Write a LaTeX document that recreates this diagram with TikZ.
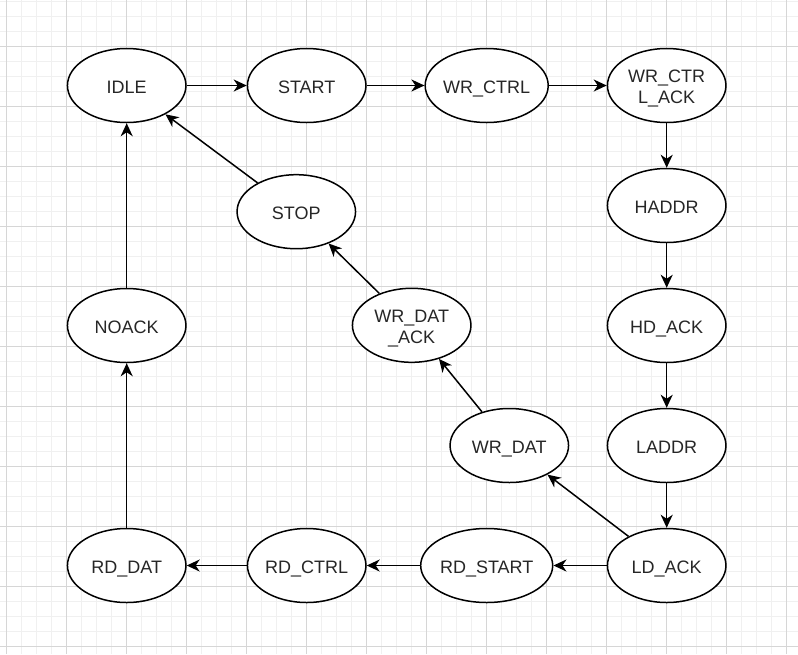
\documentclass[tikz,border=0pt]{standalone}
\usepackage{fontspec}
\setmainfont{Liberation Sans}
\usetikzlibrary{shapes.geometric,arrows.meta}
\begin{document}
\begin{tikzpicture}[x=1pt,y=-1pt,
  minorgrid/.style={draw=black!6, line width=0.8pt},
  majorgrid/.style={draw=black!16, line width=0.8pt},
  st/.style={ellipse, draw, line width=1.5pt, fill=white, minimum width=118.5pt,
    minimum height=74pt, inner sep=0pt,
    font=\fontsize{18}{21}\selectfont, text=black!85,
    text height=16pt, text depth=0pt},
  st2/.style={st, text height=15pt, text depth=21pt},
  tr/.style={-{Stealth[length=13pt,width=12pt,inset=4pt]}, line width=1.5pt}]
\useasboundingbox (0,0) rectangle (798,654);
\fill[white] (0,0) rectangle (798,654);
\foreach \i in {0,...,52} \draw[minorgrid] ({6.7+15*\i},0) -- ({6.7+15*\i},654);
\foreach \i in {0,...,43} \draw[minorgrid] (0,{1.7+15*\i}) -- (798,{1.7+15*\i});
\foreach \i in {0,...,13} \draw[majorgrid] ({6.7+60*\i},0) -- ({6.7+60*\i},654);
\foreach \i in {0,...,10} \draw[majorgrid] (0,{46.7+60*\i}) -- (798,{46.7+60*\i});

\node[st] (idle) at (126.7,85.5) {IDLE};
\node[st] (start) at (306.7,85.5) {START};
\node[st] (wrctrl) at (486.7,85.5) {WR\_CTRL};
\node[st2] (wrctrlack) at (666.7,85.5) {\begin{tabular}[t]{@{}c@{}}WR\_CTR\\L\_ACK\end{tabular}};
\node[st] (haddr) at (666.7,205.5) {HADDR};
\node[st] (hdack) at (666.7,325.5) {HD\_ACK};
\node[st] (laddr) at (666.7,445.5) {LADDR};
\node[st] (ldack) at (666.7,565.5) {LD\_ACK};
\node[st] (rdstart) at (486.7,565.5) {RD\_START};
\node[st] (rdctrl) at (306.7,565.5) {RD\_CTRL};
\node[st] (rddat) at (126.7,565.5) {RD\_DAT};
\node[st] (noack) at (126.7,325.5) {NOACK};
\node[st] (stop) at (296.3,211.7) {STOP};
\node[st2] (wrdatack) at (411.7,325.3) {\begin{tabular}[t]{@{}c@{}}WR\_DAT\\\_ACK\end{tabular}};
\node[st] (wrdat) at (509.3,445.5) {WR\_DAT};

\draw[tr] (idle) -- (start);
\draw[tr] (start) -- (wrctrl);
\draw[tr] (wrctrl) -- (wrctrlack);
\draw[tr] (wrctrlack) -- (haddr);
\draw[tr] (haddr) -- (hdack);
\draw[tr] (hdack) -- (laddr);
\draw[tr] (laddr) -- (ldack);
\draw[tr] (ldack) -- (rdstart);
\draw[tr] (rdstart) -- (rdctrl);
\draw[tr] (rdctrl) -- (rddat);
\draw[tr] (rddat) -- (noack);
\draw[tr] (noack) -- (idle);
\draw[tr] (ldack) -- (wrdat);
\draw[tr] (wrdat) -- (wrdatack);
\draw[tr] (wrdatack) -- (stop);
\draw[tr] (stop) -- (idle);
\end{tikzpicture}
\end{document}
